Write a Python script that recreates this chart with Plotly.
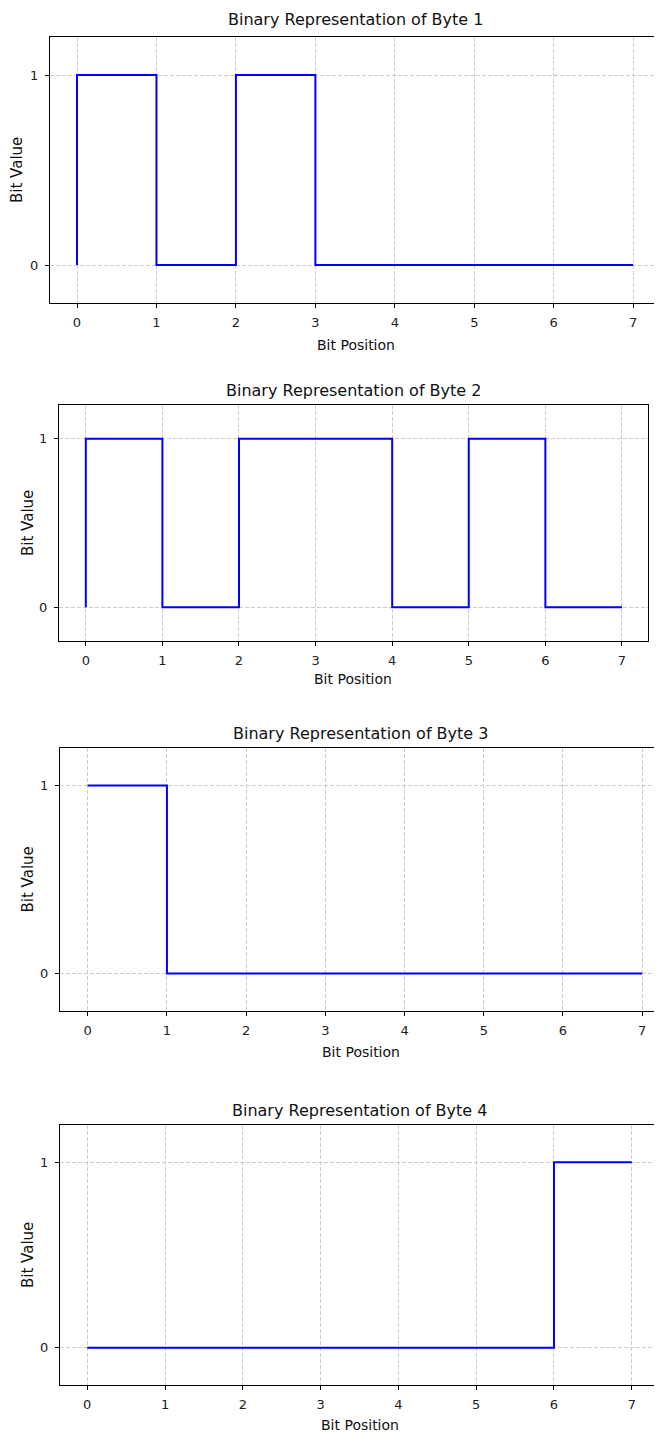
import plotly.graph_objects as go

W, H = 662, 1432
O = 8  # page body margin offset in the browser

bit_positions = [0, 1, 2, 3, 4, 5, 6, 7]
byte1_values = [0, 1, 0, 1, 0, 0, 0, 0]
byte2_values = [0, 1, 0, 1, 1, 0, 1, 0]
byte3_values = [1, 1, 0, 0, 0, 0, 0, 0]
byte4_values = [0, 0, 0, 0, 0, 0, 0, 1]
titles = ["Binary Representation of Byte 1", "Binary Representation of Byte 2",
          "Binary Representation of Byte 3", "Binary Representation of Byte 4"]
x_tick_labels = ["0", "1", "2", "3", "4", "5", "6", "7"]
y_tick_labels = ["0", "1"]

series = [byte1_values, byte2_values, byte3_values, byte4_values]

# pixel boxes in the screenshot: (left, right, top, bottom), x range, title y, xlabel y, ylabel x
boxes = [
    dict(l=50, r=661, t=37, b=303, xr=[-0.34, 7.35], ty=20, xly=345, ylx=17, rspine=True),
    dict(l=59, r=648, t=405, b=641, xr=[-0.35, 7.34], ty=391, xly=679, ylx=28, rspine=True),
    dict(l=60, r=662, t=748, b=1011, xr=[-0.35, 7.25], ty=734, xly=1052, ylx=27, rspine=False),
    dict(l=60, r=659, t=1125, b=1385, xr=[-0.35, 7.35], ty=1110, xly=1425, ylx=28, rspine=True),
]

FONT = "DejaVu Sans, sans-serif"
GRID = "#cccccc"

fig = go.Figure()
annotations = []
layout = {}
for i, (vals, box) in enumerate(zip(series, boxes)):
    n = i + 1
    xa = "x" if n == 1 else f"x{n}"
    ya = "y" if n == 1 else f"y{n}"
    fig.add_trace(go.Scatter(
        x=bit_positions, y=vals, mode="lines", line=dict(color="blue", width=2, shape="vh"),
        xaxis=xa, yaxis=ya, showlegend=False, hoverinfo="skip"))
    l, r, t, b = box["l"] - O, box["r"] - O, box["t"] - O, box["b"] - O
    xd = [l / W, r / W]
    yd = [1 - b / H, 1 - t / H]
    layout[f"xaxis{n if n > 1 else ''}"] = dict(
        domain=xd, range=box["xr"], anchor=ya, tickvals=bit_positions, ticktext=x_tick_labels,
        showgrid=True, gridcolor=GRID, griddash="4px,2px", gridwidth=1,
        showline=True, linecolor="black", linewidth=1, mirror=True,
        ticks="outside", ticklen=4, tickcolor="black", zeroline=False, ticklabelstandoff=3,
        tickfont=dict(family=FONT, size=13, color="#222"))
    layout[f"yaxis{n if n > 1 else ''}"] = dict(
        domain=yd, range=[-0.2, 1.2], anchor=xa, tickvals=[0, 1], ticktext=y_tick_labels,
        showgrid=True, gridcolor=GRID, griddash="4px,2px", gridwidth=1,
        showline=True, linecolor="black", linewidth=1, mirror=box["rspine"],
        ticks="outside", ticklen=4, tickcolor="black", zeroline=False, ticklabelstandoff=4,
        tickfont=dict(family=FONT, size=13, color="#222"))
    cx = (l + r) / 2 / W
    annotations.append(dict(text=titles[i], x=cx, y=1 - (box["ty"] - O) / H, xref="paper", yref="paper",
                            xanchor="center", yanchor="middle", showarrow=False,
                            font=dict(family=FONT, size=16, color="#111")))
    annotations.append(dict(text="Bit Position", x=cx, y=1 - (box["xly"] - O) / H, xref="paper", yref="paper",
                            xanchor="center", yanchor="middle", showarrow=False,
                            font=dict(family=FONT, size=14, color="#111")))
    annotations.append(dict(text="Bit Value", x=(box["ylx"] - O) / W, y=1 - ((t + b) / 2) / H,
                            xref="paper", yref="paper", textangle=-90,
                            xanchor="center", yanchor="middle", showarrow=False,
                            font=dict(family=FONT, size=15, color="#111")))

fig.update_layout(**layout)
fig.update_layout(width=W, height=H, margin=dict(l=0, r=0, t=0, b=0),
                  plot_bgcolor="white", paper_bgcolor="white", annotations=annotations)
fig.write_html("out.html")
